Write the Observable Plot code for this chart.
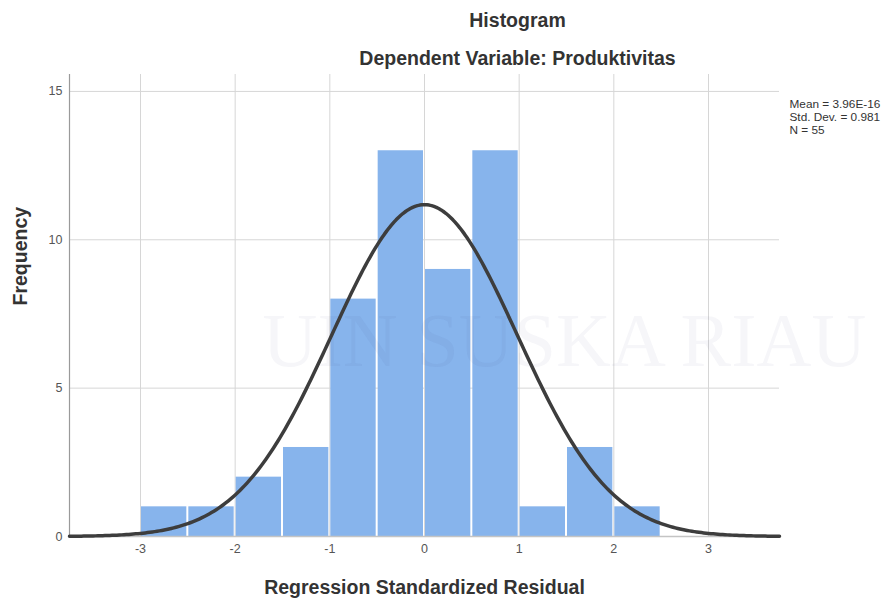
<!DOCTYPE html>
<html><head><meta charset="utf-8">
<script src="https://cdn.jsdelivr.net/npm/d3@7"></script>
<script src="https://cdn.jsdelivr.net/npm/@observablehq/plot@0.6"></script>
<style>body{margin:0;background:#fff}</style>
</head><body><div id="chart"></div>
<script>
const binStarts = [-3, -2.5, -2, -1.5, -1, -0.5, 0, 0.5, 1, 1.5, 2];
const counts = [1, 1, 2, 3, 8, 13, 9, 13, 1, 3, 1];
const binWidth = 0.5;
const mean = 3.96e-16, stdDev = 0.981, n = 55;
const xTicks = [-3, -2, -1, 0, 1, 2, 3];
const yTicks = [0, 5, 10, 15];
const statsText = ["Mean = 3.96E-16", "Std. Dev. = 0.981", "N = 55"];

const bins = binStarts.map((x1, i) => ({x1, x2: x1 + binWidth, count: counts[i]}));
// fitted normal curve from the stated mean, std. dev. and N
const curve = d3.range(0, 301).map(i => {
  const x = -3.75 + i * 0.025;
  return {x, y: n * binWidth * Math.exp(-0.5 * ((x - mean) / stdDev) ** 2) / (stdDev * Math.sqrt(2 * Math.PI))};
});

const chart = Plot.plot({
  width: 892, height: 599,
  marginLeft: 69, marginRight: 113, marginTop: 74, marginBottom: 63,
  x: {domain: [-3.75, 3.75]},
  y: {domain: [0, 15.57]},
  style: {fontFamily: "Arimo, 'Liberation Sans', Arial, sans-serif", background: "#fff"},
  marks: [
    Plot.ruleX(xTicks, {stroke: "#d6d6d6"}),
    Plot.ruleY(yTicks.filter(d => d > 0), {stroke: "#d6d6d6"}),
    Plot.rectY(bins, {x1: "x1", x2: "x2", y: "count", fill: "#87b4ec", insetLeft: 1, insetRight: 1}),
    Plot.ruleY([0], {stroke: "#c4c4c4", strokeWidth: 1.5}),
    Plot.ruleX([-3.75], {stroke: "#9a9a9a", strokeWidth: 1.2}),
    Plot.text(["UIN SUSKA RIAU"], {frameAnchor: "left", textAnchor: "start", lineAnchor: "middle", dx: 193, dy: 36, fontSize: 76, fontFamily: "'Liberation Serif', 'DejaVu Serif', serif", fill: "#23337a", fillOpacity: 0.045}),
    Plot.line(curve, {x: "x", y: "y", stroke: "#3d3d3d", strokeWidth: 3.5}),
    Plot.axisX(xTicks, {tickSize: 0, tickPadding: 8, fontSize: 12.5, fill: "#555", label: null, tickFormat: d => String(d)}),
    Plot.axisY(yTicks, {tickSize: 0, tickPadding: 7, fontSize: 12.5, fill: "#555", label: null, tickFormat: d => String(d)}),
    Plot.text(["Histogram"], {frameAnchor: "top", lineAnchor: "middle", dx: 93, dy: -54, fontSize: 19.5, fontWeight: "bold", fill: "#333"}),
    Plot.text(["Dependent Variable: Produktivitas"], {frameAnchor: "top", lineAnchor: "middle", dx: 93, dy: -16, fontSize: 19.5, fontWeight: "bold", fill: "#333"}),
    Plot.text([statsText.join("\n")], {frameAnchor: "top-right", textAnchor: "start", lineAnchor: "top", dx: 10, dy: 24, fontSize: 11.8, lineHeight: 1.12, fill: "#333"}),
    Plot.text(["Frequency"], {frameAnchor: "left", rotate: -90, lineAnchor: "middle", dx: -49, fontSize: 19.5, fontWeight: "bold", fill: "#333"}),
    Plot.text(["Regression Standardized Residual"], {frameAnchor: "bottom", lineAnchor: "middle", dy: 51, fontSize: 19.5, fontWeight: "bold", fill: "#333"})
  ]
});
document.getElementById("chart").append(chart);
</script>
</body></html>
